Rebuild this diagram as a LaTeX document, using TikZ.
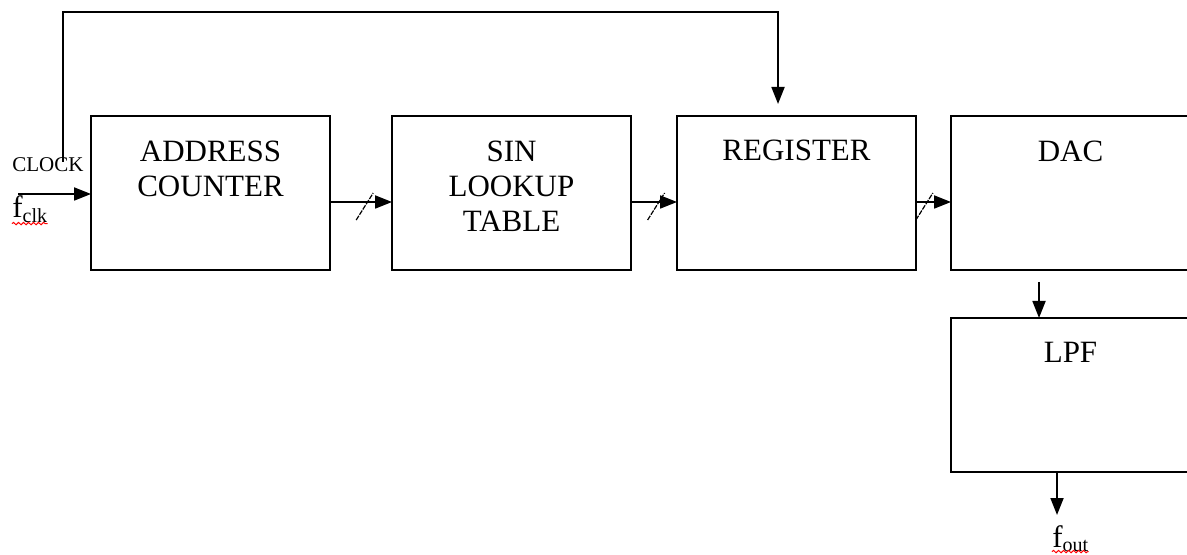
\documentclass[tikz,border=0pt]{standalone}
\usepackage{fontspec}
\setmainfont{Liberation Serif}
\usetikzlibrary{positioning,arrows.meta,decorations.pathmorphing}

\tikzset{
  blk/.style={draw, line width=0.9pt, minimum width=119.5pt, minimum height=77pt, inner sep=0pt, outer sep=0pt},
  blktext/.style={align=center, inner sep=0pt, anchor=north, font=\fontsize{15.5}{17.5}\selectfont},
  sig/.style={line width=0.9pt, -{Triangle[length=8.5pt,width=6.5pt]}},
  bus/.style={line width=0.6pt, dash pattern=on 2.5pt off 0.6pt},
  squiggle/.style={red, line width=0.5pt, decorate, decoration={snake, amplitude=0.6pt, segment length=2.5pt}}
}
\newcommand{\sigsub}[1]{\raisebox{-0.35ex}{\fontsize{10}{10}\selectfont #1}}

\begin{document}
\begin{tikzpicture}[x=0.5pt, y=-0.5pt]
        \useasboundingbox (0,0) rectangle (1187,555);
        \clip (0,0) rectangle (1187,555);

        % blocks of the chain
        \node[blk] (addr) at (210.5,193) {};
        \node[blk, right=31pt of addr] (lut) {};
        \node[blk, right=23pt of lut] (reg) {};
        \node[blk, right=17.5pt of reg] (dac) {};
        \node[blk, below=24pt of dac] (lpf) {};

        \node[blktext] (addrtxt) at ([yshift=-12.5pt]addr.north) {ADDRESS\\COUNTER};
        \node[blktext] (luttxt) at ([yshift=-12.5pt]lut.north) {SIN\\LOOKUP\\TABLE};
        \node[blktext] (regtxt) at ([yshift=-12pt]reg.north) {REGISTER};
        \node[blktext] (dactxt) at ([yshift=-12.5pt]dac.north) {DAC};
        \node[blktext] (lpftxt) at ([yshift=-12pt]lpf.north) {LPF};

        % bus connections with slash marks
        \draw[sig] ([yshift=-4.5pt]addr.east) -- coordinate[pos=0.6] (b1) ([yshift=-4.5pt]lut.west);
        \draw[sig] ([yshift=-4.5pt]lut.east) -- coordinate[pos=0.6] (b2) ([yshift=-4.5pt]reg.west);
        \draw[sig] ([yshift=-4.5pt]reg.east) -- coordinate[pos=0.31] (b3) ([yshift=-4.5pt]dac.west);
        \foreach \b in {b1,b2,b3} {
            \draw[bus] ([shift={(-5.5pt,-9pt)}]\b) -- ([shift={(3pt,4.5pt)}]\b);
        }

        % clock input and feedback to the register
        \node[inner sep=0pt, anchor=base west, font=\fontsize{10.5}{12}\selectfont] (clklbl) at (12,172) {CLOCK};
        \node[inner sep=0pt, anchor=base west, font=\fontsize{15.5}{17.5}\selectfont] (fclk) at (12,218) {f\sigsub{clk}};
        \draw[squiggle] ([yshift=-2.8pt]fclk.base west) -- ([yshift=-2.8pt]fclk.base east);
        \coordinate (fin) at (18,194);
        \draw[sig] (fin) -- (fin -| addr.west);
        \coordinate (clk) at (63,162);
        \coordinate (fbtop) at (0,12);
        \coordinate (regin) at ([xshift=-9.25pt,yshift=6pt]reg.north);
        \draw[sig] (clk) |- (fbtop -| regin) -- (regin);

        % output path
        \draw[sig] ([xshift=-15.75pt,yshift=-6pt]dac.south) -- ([xshift=-15.75pt]lpf.north);
        \coordinate (outend) at ([xshift=-6.75pt,yshift=-21.5pt]lpf.south);
        \draw[sig] ([xshift=-6.75pt]lpf.south) -- (outend);
        \node[inner sep=0pt, anchor=base west, font=\fontsize{15.5}{17.5}\selectfont] (fout) at (1052,547) {f\sigsub{out}};
        \draw[squiggle] ([yshift=-2.3pt]fout.base west) -- ([yshift=-2.3pt]fout.base east);
\end{tikzpicture}
\end{document}
